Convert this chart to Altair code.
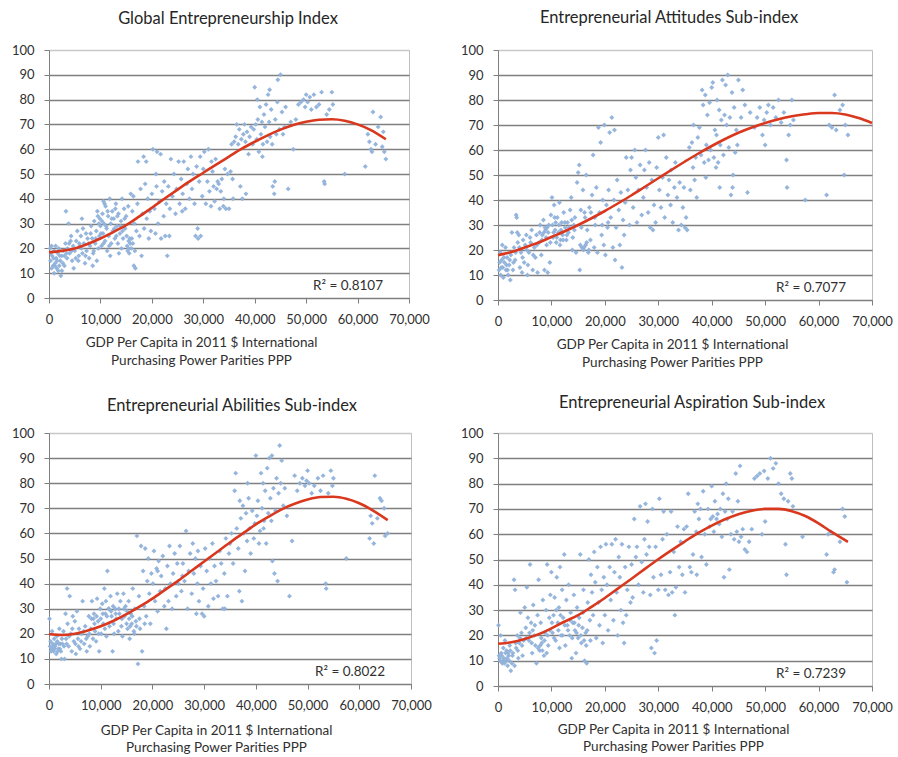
import altair as alt
import pandas as pd

FONT = "Lato"
TXT = "#303030"
GRID = "#7F7F7F"
PT_COLOR = "#8FB1DA"
LINE_COLOR = "#D9381E"

titles = [
    "Global Entrepreneurship Index",
    "Entrepreneurial Attitudes Sub-index",
    "Entrepreneurial Abilities Sub-index",
    "Entrepreneurial Aspiration Sub-index",
]
r2_labels = ["R\u00b2 = 0.8107", "R\u00b2 = 0.7077", "R\u00b2 = 0.8022", "R\u00b2 = 0.7239"]
x_title = ["GDP Per Capita in 2011 $ International", "Purchasing Power Parities PPP"]
x_ticks = [0, 10000, 20000, 30000, 40000, 50000, 60000, 70000]
y_ticks = [0, 10, 20, 30, 40, 50, 60, 70, 80, 90, 100]

# GDP per capita in thousands of 2011 $, index score
gei_points = [
    (0.2,20),(0.3,15),(0.5,12),(0.6,17),(0.8,13),(1.0,19),(1.0,10),(1.2,14),(1.4,16),(1.5,12),(1.7,18),(1.8,11),(2.0,13),(2.2,15),(2.3,9),(2.5,17),(2.5,11),(0.4,18),(1.3,21),
    (2.8,19),(3.0,13),(3.2,22),(3.3,35),(3.5,16),(3.6,20),(3.8,30),(4.0,18),(4.2,23),(4.5,15),(4.7,21),(4.8,12),(3.0,17),(4.3,25),
    (5.0,19),(5.3,23),(5.5,27),(5.7,15),(6.0,21),(6.2,25),(6.4,32),(6.5,18),(6.8,22),(7.0,14),(7.2,26),(7.3,19),(7.5,24),(5.8,17),(6.6,28),
    (7.8,16),(8.0,21),(8.2,29),(8.4,24),(8.6,18),(8.8,31),(9.0,22),(9.2,27),(9.3,15),(9.5,33),(9.6,20),(9.8,25),(10.0,29),(8.5,13),(9.4,35),
    (10.2,21),(10.4,34),(10.5,26),(10.7,30),(10.9,23),(11.0,37),(11.2,28),(11.3,19),(11.5,33),(11.6,25),(11.8,40),(12.0,30),(12.1,22),(12.3,35),(12.4,27),(10.8,38),(11.9,17),
    (12.6,32),(12.8,24),(13.0,38),(13.2,29),(13.4,22),(13.5,34),(13.8,26),(14.0,31),(14.2,40),(14.4,24),(14.6,36),(14.8,28),(15.0,33),(13.6,18),(14.1,20),
    (15.2,21),(15.3,19),(15.5,23),(15.6,18),(15.8,22),(16.0,20),(16.1,24),(16.2,35),(16.4,41),(16.5,13),(16.8,12),(17.0,27),(17.2,38),(15.4,37),(15.9,42),(16.6,30),(17.3,55),
    (17.6,25),(17.8,44),(18.0,17),(18.2,34),(18.4,57),(18.5,28),(18.7,46),(19.0,32),(19.2,40),(19.4,24),(19.6,35),(19.8,27),(18.9,55),(20.0,42),
    (20.2,60),(20.5,36),(20.7,26),(20.9,45),(21.0,59),(21.2,30),(21.5,39),(21.7,58),(21.8,24),(22.0,43),(22.3,33),(22.4,47),(20.8,50),
    (22.6,25),(22.8,38),(23.0,17),(23.2,45),(23.4,25),(23.5,36),(23.7,56),(24.0,41),(24.3,50),(24.6,34),(24.8,44),
    (25.2,55),(25.4,38),(25.7,48),(26.0,42),(26.2,55),(26.5,36),(26.8,46),(27.0,52),(27.3,40),(25.9,35),
    (27.6,57),(27.8,44),(28.0,50),(28.3,38),(28.5,25),(28.7,53),(29.0,24),(29.2,47),(29.4,57),(29.5,25),(29.8,41),(30.0,52),(28.9,28),
    (30.2,59),(30.5,38),(30.8,47),(31.0,60),(31.2,43),(31.5,37),(31.8,51),(32.0,45),(32.2,39),(32.4,56),(31.6,55),
    (32.6,44),(32.8,47),(33.0,46),(33.2,36),(33.4,43),(33.6,48),(33.9,37),(34.2,52),(34.4,36),(34.7,50),(35.0,36),(34.0,40),
    (35.3,51),(35.5,62),(35.8,40),(36.0,63),(36.3,65),(36.5,70),(36.8,62),(37.0,68),(37.2,45),(37.4,64),(35.7,48),
    (37.6,40),(37.8,66),(38.0,70),(38.2,63),(38.5,67),(38.8,58),(39.0,65),(39.3,69),(39.6,62),(39.8,68),(38.3,42),
    (40.0,85),(40.2,70),(40.4,64),(40.6,72),(40.8,59),(41.0,77),(41.2,66),(41.4,71),(41.6,62),(41.8,74),(42.0,69),(42.2,78),(42.4,63),(40.5,80),(41.5,57),
    (42.6,82),(42.8,71),(43.0,65),(43.2,76),(43.4,62),(43.5,45),(43.8,42),(44.0,72),(44.2,66),(44.4,79),(44.5,88),(44.8,68),(45.0,90),(43.9,47),(42.9,84),
    (45.3,75),(45.5,66),(45.8,69),(46.0,77),(46.5,44),(47.0,71),(47.5,60),(48.0,72),(48.5,78),(49.0,79),(49.5,80),(50.0,82),(49.8,77),
    (50.3,79),(50.7,81),(51.0,76),(51.5,82),(52.0,77),(52.5,78),(53.0,83),(53.5,47),(53.6,46),(54.0,74),(54.5,76),(55.0,83),(55.2,78),
    (57.5,50),(61.5,53),(62.0,66),(62.3,63),(62.6,60),(62.8,59),(63.0,75),(63.5,62),(64.0,69),(64.5,73),(64.8,61),(65.0,67),(65.2,59),(65.5,56),
    (0.5,21),(0.9,16),(1.1,13),(1.6,15),(1.9,20),(2.1,17),(2.7,14),(3.4,18),(3.9,22),(4.4,19),(5.2,16),(5.9,22),(6.3,20),(7.1,17),(7.7,22),(8.1,26),(8.7,19),(9.1,24),(9.7,30),(10.1,26),
    (10.3,31),(10.6,22),(11.1,29),(11.4,35),(11.7,21),(12.2,32),(12.7,28),(13.1,25),(13.3,33),(13.9,29),(14.3,27),(14.7,32),(15.1,25),(15.5,20),(15.7,24),(16.3,22),(16.7,19),(12.9,36),(10.6,39),(9.9,32),
]

att_points = [
    (0.2,12),(0.4,19),(0.5,10),(0.7,16),(0.9,13),(1.0,9),(1.2,15),(1.4,21),(1.5,12),(1.7,17),(1.9,10),(2.1,14),(2.3,8),(2.4,18),(0.8,22),(1.6,14),
    (2.6,27),(2.8,12),(3.0,21),(3.2,16),(3.4,34),(3.5,33),(3.7,23),(3.9,26),(4.1,13),(4.3,19),(4.5,11),(4.7,24),(4.9,15),
    (5.1,22),(5.3,26),(5.6,14),(5.8,19),(6.0,25),(6.3,28),(6.5,12),(6.8,21),(7.0,17),(7.2,26),(7.4,11),(5.5,10),
    (7.7,23),(7.9,30),(8.1,18),(8.3,26),(8.5,32),(8.7,12),(8.9,28),(9.1,22),(9.3,11),(9.5,30),(9.7,15),(9.9,34),(8.6,27),(9.2,29),
    (10.1,41),(10.3,25),(10.5,38),(10.7,28),(10.9,23),(11.1,33),(11.3,27),(11.5,39),(11.7,24),(11.9,31),(12.1,26),(12.3,35),(10.8,31),(11.6,22),
    (12.6,29),(12.8,24),(13.0,31),(13.2,27),(13.5,36),(13.7,41),(14.0,25),(14.2,30),(14.4,33),(14.6,19),(14.8,47),(15.0,51),(13.9,20),
    (15.2,54),(15.3,12),(15.5,36),(15.7,21),(15.9,44),(16.0,20),(16.2,35),(16.4,22),(16.5,50),(16.7,28),(16.9,19),(17.1,37),(17.3,24),(15.6,29),(16.3,33),
    (17.6,42),(17.8,58),(18.0,21),(18.2,30),(18.4,45),(18.6,19),(18.8,69),(19.0,35),(19.2,63),(19.4,26),(19.6,40),(19.8,22),(19.9,70),
    (20.1,18),(20.3,38),(20.5,29),(20.7,44),(20.9,67),(21.1,33),(21.3,73),(21.5,21),(21.7,40),(21.9,16),(22.1,29),(22.3,48),(21.8,68),
    (22.6,36),(22.8,22),(23.0,43),(23.2,13),(23.4,32),(23.6,26),(23.8,39),(24.0,57),(24.3,44),(24.6,30),(24.8,52),
    (25.0,57),(25.3,37),(25.6,60),(25.8,49),(26.0,31),(26.3,44),(26.6,54),(26.9,34),(27.2,41),(27.4,52),
    (27.6,60),(27.8,45),(28.1,35),(28.3,55),(28.5,29),(28.8,48),(29.0,28),(29.2,38),(29.5,31),(29.7,53),(30.0,65),
    (30.2,44),(30.5,37),(30.8,49),(31.0,66),(31.2,33),(31.5,57),(31.8,42),(32.0,48),(32.3,38),(32.4,52),
    (32.7,31),(33.0,45),(33.2,55),(33.5,41),(33.8,28),(34.0,47),(34.3,30),(34.6,37),(34.8,45),(35.0,29),(35.2,33),(35.4,28),
    (35.8,61),(36.0,44),(36.3,63),(36.6,70),(36.8,48),(37.0,57),(37.2,41),(37.4,65),(36.5,53),
    (37.7,69),(38.0,58),(38.2,84),(38.4,78),(38.6,55),(38.8,82),(39.0,62),(39.2,74),(39.4,56),(39.6,79),(39.8,60),(40.0,85),(38.9,49),
    (40.2,87),(40.4,57),(40.6,68),(40.8,53),(41.0,80),(41.2,55),(41.4,76),(41.6,62),(41.8,72),(42.0,88),(42.2,58),(42.4,74),(40.9,66),(41.5,45),
    (42.6,86),(42.8,70),(43.0,90),(43.2,61),(43.4,73),(43.6,42),(43.8,83),(44.0,50),(44.2,77),(44.4,59),(44.6,68),(44.8,62),(45.0,88),(43.9,45),
    (45.5,73),(45.8,84),(46.2,78),(46.7,43),(47.2,75),(48.0,69),(48.5,73),(49.0,77),(49.5,66),(49.8,72),(50.0,62),(50.3,75),
    (50.6,78),(51.0,70),(51.5,77),(52.0,73),(52.5,80),(53.0,71),(53.5,75),(54.0,56),(54.1,45),(54.4,66),(54.7,70),(55.0,80),(55.3,72),
    (57.5,40),(61.5,42),(62.0,70),(62.5,69),(63.0,82),(63.3,68),(64.0,76),(64.5,78),(64.8,50),(65.0,70),(65.5,66),
    (0.3,15),(0.6,13),(1.1,17),(1.8,12),(2.2,16),(2.9,15),(3.3,19),(3.6,27),(4.0,21),(4.6,17),(5.4,20),(6.1,23),(6.6,18),(7.3,22),(7.8,27),(8.2,24),(8.8,29),(9.0,25),(9.4,27),(9.8,23),
    (10.2,30),(10.4,27),(10.6,33),(11.0,25),(11.4,30),(11.8,28),(12.2,24),(12.5,31),(12.9,26),(13.3,29),(13.8,32),(14.3,28),(15.4,22),(16.1,21),(16.6,23),(17.0,20),(17.4,35),(18.1,33),(19.5,30),(20.6,31),
]

abi_points = [
    (0.1,26),(0.3,17),(0.5,14),(0.7,16),(0.9,13),(1.0,18),(1.2,15),(1.4,12),(1.6,17),(1.8,14),(2.0,22),(2.2,16),(2.4,10),(0.6,21),(1.5,19),(2.3,13),
    (2.6,16),(2.8,21),(3.0,10),(3.2,28),(3.3,18),(3.5,38),(3.6,24),(3.8,15),(4.0,35),(4.2,20),(4.4,13),(4.6,27),(4.8,17),
    (5.0,25),(5.2,12),(5.4,29),(5.6,18),(5.8,22),(6.0,14),(6.3,20),(6.5,33),(6.8,16),(7.0,23),(7.3,13),(7.5,19),
    (7.7,27),(7.9,15),(8.1,22),(8.3,33),(8.5,18),(8.7,28),(8.9,21),(9.1,17),(9.3,34),(9.5,25),(9.7,13),(9.9,30),(8.6,26),
    (10.1,20),(10.3,32),(10.5,24),(10.7,38),(10.9,28),(11.1,19),(11.3,45),(11.5,30),(11.7,23),(11.9,35),(12.1,27),(12.3,13),(12.4,31),(11.0,33),
    (12.6,20),(12.8,30),(13.0,26),(13.2,36),(13.4,21),(13.6,28),(13.8,33),(14.0,23),(14.2,19),(14.4,36),(14.6,27),(14.8,31),(15.0,24),
    (15.2,22),(15.4,33),(15.6,18),(15.8,28),(16.0,24),(16.2,38),(16.4,21),(16.6,30),(16.8,25),(17.0,59),(17.2,8),(17.4,35),(15.5,26),(16.5,20),
    (17.6,22),(17.8,55),(18.0,13),(18.2,45),(18.4,31),(18.6,54),(18.8,27),(19.0,41),(19.2,50),(19.4,36),(19.6,24),(19.8,44),
    (20.1,40),(20.3,53),(20.5,33),(20.8,46),(21.0,29),(21.2,49),(21.5,37),(21.7,43),(22.0,51),(22.3,31),(22.5,38),(21.0,45),
    (22.7,22),(22.9,47),(23.1,33),(23.3,55),(23.5,40),(23.8,30),(24.0,44),(24.3,52),(24.6,35),(24.8,48),
    (25.0,40),(25.3,55),(25.6,37),(25.9,48),(26.2,41),(26.5,61),(26.8,30),(27.0,45),(27.3,52),(25.8,43),
    (27.6,36),(27.8,56),(28.0,44),(28.3,50),(28.5,28),(28.8,53),(29.0,33),(29.3,47),(29.6,28),(29.8,38),(30.0,27),(28.7,40),
    (30.2,54),(30.5,45),(30.8,31),(31.0,50),(31.3,40),(31.6,56),(31.8,34),(32.0,47),(32.3,41),
    (32.7,35),(33.0,53),(33.3,48),(33.6,30),(33.9,44),(34.2,58),(34.5,35),(34.8,52),(35.0,56),(34.0,30),
    (35.3,60),(35.6,48),(35.9,77),(36.1,84),(36.3,62),(36.6,54),(36.9,73),(37.1,66),(37.3,33),(37.5,71),(36.8,37),
    (37.7,60),(37.9,45),(38.1,68),(38.3,57),(38.6,74),(38.8,62),(39.0,52),(39.3,69),(39.6,58),(39.8,64),(40.0,91),(38.4,80),
    (40.2,67),(40.4,73),(40.6,56),(40.8,61),(41.0,84),(41.2,70),(41.4,80),(41.6,65),(41.8,77),(42.0,56),(42.2,86),(42.4,68),(41.5,62),
    (42.6,90),(42.8,74),(43.0,65),(43.2,49),(43.4,78),(43.6,44),(43.8,69),(44.0,82),(44.2,41),(44.4,76),(44.6,95),(44.8,80),(45.0,89),(43.1,91),
    (45.3,71),(45.6,78),(46.0,67),(46.5,35),(47.0,57),(47.5,83),(48.0,77),(48.5,80),(49.0,82),(49.5,79),(50.0,85),(49.8,81),
    (50.3,80),(50.8,76),(51.3,79),(52.0,82),(52.5,77),(53.0,83),(53.5,40),(53.6,38),(54.0,76),(54.5,85),(54.8,79),(55.0,82),
    (57.5,50),(62.0,58),(62.2,67),(62.5,64),(62.8,56),(63.0,83),(63.5,66),(64.0,74),(64.3,73),(64.8,70),(65.0,59),(65.5,60),
    (0.2,15),(0.4,13),(0.8,15),(1.1,14),(1.3,16),(1.7,13),(1.9,16),(2.1,14),(2.5,18),(2.9,15),(3.4,16),(3.9,19),(4.5,22),(5.1,16),(5.7,15),(6.2,17),(6.7,21),(7.2,18),(7.8,20),(8.2,26),
    (8.8,24),(9.2,27),(9.6,20),(10.0,26),(10.4,28),(10.8,22),(11.2,27),(11.6,30),(12.0,29),(12.5,24),(12.9,28),(13.5,30),(14.1,26),(14.5,30),(15.1,29),(15.7,23),(16.1,27),(16.9,23),(17.5,26),(18.5,24),
]

asp_points = [
    (0.1,24),(0.3,11),(0.5,20),(0.6,13),(0.8,9),(1.0,15),(1.1,11),(1.3,18),(1.5,10),(1.6,14),(1.8,8),(2.0,12),(2.2,16),(2.4,6),(0.9,10),(1.9,13),
    (2.6,9),(2.8,13),(3.0,42),(3.2,38),(3.4,15),(3.6,20),(3.8,11),(4.0,17),(4.2,29),(4.4,21),(4.6,12),(4.8,18),(3.1,8),
    (5.0,31),(5.2,23),(5.4,39),(5.6,27),(5.8,18),(6.0,48),(6.2,25),(6.4,13),(6.6,32),(6.8,20),(7.0,16),(7.2,9),(7.4,28),(6.5,22),
    (7.6,42),(7.8,14),(8.0,25),(8.2,17),(8.4,34),(8.6,12),(8.8,21),(9.0,30),(9.2,48),(9.4,16),(9.6,27),(9.8,36),(8.1,19),(9.1,13),
    (10.0,45),(10.2,21),(10.4,28),(10.6,35),(10.8,18),(11.0,43),(11.2,25),(11.4,31),(11.6,47),(11.8,20),(12.0,38),(12.2,27),(12.4,52),(11.5,15),
    (12.6,16),(12.8,34),(13.0,24),(13.2,40),(13.4,20),(13.6,29),(13.8,11),(14.0,25),(14.2,36),(14.4,22),(14.6,13),(14.8,31),(15.0,19),
    (15.2,27),(15.4,52),(15.6,17),(15.8,23),(16.0,38),(16.2,10),(16.4,21),(16.6,9),(16.8,33),(17.0,50),(17.2,26),(17.4,44),(15.9,29),(16.5,16),
    (17.6,37),(17.8,28),(18.0,53),(18.2,41),(18.4,19),(18.6,47),(18.8,33),(19.0,24),(19.2,55),(19.4,38),(19.6,17),(19.8,43),
    (20.0,28),(20.2,56),(20.4,40),(20.6,22),(20.9,47),(21.1,34),(21.3,56),(21.6,26),(21.8,45),(22.0,58),(22.2,37),(22.4,20),
    (22.6,51),(22.8,43),(23.0,30),(23.2,56),(23.4,25),(23.6,17),(23.8,47),(24.0,28),(24.2,38),(24.5,55),(24.8,33),
    (25.0,48),(25.2,35),(25.5,66),(25.8,51),(26.0,55),(26.3,40),(26.6,71),(26.9,49),(27.2,37),(27.4,58),
    (27.6,72),(27.8,52),(28.0,65),(28.3,55),(28.5,36),(28.7,15),(28.9,70),(29.1,43),(29.3,13),(29.5,55),(29.7,18),(30.0,38),
    (30.2,74),(30.5,44),(30.8,58),(31.0,69),(31.3,38),(31.6,60),(31.9,36),(32.2,45),(32.4,69),
    (32.6,37),(32.9,53),(33.1,28),(33.3,39),(33.6,63),(33.9,47),(34.2,57),(34.5,44),(34.8,62),(35.0,37),
    (35.3,63),(35.6,76),(35.9,47),(36.2,45),(36.5,52),(36.8,69),(37.1,61),(37.4,72),(37.2,44),
    (37.6,66),(37.9,70),(38.1,51),(38.4,77),(38.7,60),(39.0,48),(39.3,70),(39.6,63),(39.8,66),(40.0,79),
    (40.2,67),(40.4,61),(40.6,73),(40.9,66),(41.1,68),(41.4,64),(41.6,70),(41.9,59),(42.1,76),(42.3,43),(42.5,69),
    (42.7,80),(42.9,66),(43.1,74),(43.3,46),(43.6,60),(43.9,69),(44.2,58),(44.5,84),(44.7,61),(44.9,73),(45.1,57),(45.3,87),
    (45.5,59),(45.8,62),(46.2,54),(46.6,53),(47.0,57),(47.5,62),(48.0,82),(48.5,83),(49.0,84),(49.4,60),(49.8,85),(50.0,65),
    (50.5,82),(51.0,90),(51.5,86),(52.0,88),(52.5,80),(53.0,76),(53.5,74),(53.8,56),(54.0,44),(54.3,73),(54.7,84),(55.0,82),(55.2,71),
    (57.0,59),(61.5,52),(61.8,60),(62.3,61),(62.8,45),(63.0,46),(64.0,57),(64.5,70),(64.9,67),(65.3,41),
    (0.2,12),(0.4,10),(0.7,12),(1.2,9),(1.4,13),(1.7,11),(2.1,10),(2.3,14),(2.7,12),(3.3,17),(3.7,14),(4.1,19),(4.5,16),(5.3,19),(5.9,21),(6.3,17),(6.9,24),(7.5,15),(7.9,16),(8.3,14),
    (8.7,18),(9.3,20),(9.7,22),(10.1,25),(10.5,19),(10.9,30),(11.3,22),(11.7,28),(12.1,20),(12.5,24),(13.1,22),(13.5,26),(13.9,19),(14.3,25),(14.7,21),(15.1,24),(15.5,20),(16.1,18),(16.7,22),(17.3,18),
]

# Trend lines (x in thousands)
curve_x_short = [0, 2.5, 5, 7.5, 10, 12.5, 15, 17.5, 20, 22.5, 25, 27.5, 30, 32.5, 35,
                 37.5, 40, 42.5, 45, 47.5, 50, 52.5, 55, 57.5, 60, 62.5, 65.5]
curve_x_long = [0, 2.5, 5, 7.5, 10, 12.5, 15, 17.5, 20, 22.5, 25, 27.5, 30, 32.5, 35,
                37.5, 40, 42.5, 45, 47.5, 50, 52.5, 55, 57.5, 60, 62.5, 65, 67.5, 70]
gei_curve = [18.4, 19, 20, 21.8, 24, 26.6, 29.4, 32.8, 36.4, 40.1, 43.7, 47.2, 50.5, 53.8, 57,
             60.2, 63, 65.6, 67.9, 69.8, 71.1, 71.9, 72.1, 71.5, 70, 67.8, 64]
att_curve = [17.9, 19.2, 21, 22.9, 25.2, 27.5, 30, 32.7, 35.6, 38.7, 41.9, 45.3, 48.7, 52.1, 55.4,
             58.6, 61.6, 64.4, 66.9, 69, 70.8, 72.3, 73.5, 74.3, 74.8, 74.8, 74.2, 72.8, 70.8]
abi_curve = [19.9, 19.5, 20, 21.3, 23, 25.2, 27.8, 30.8, 34, 37.6, 41.2, 45, 48.8, 52.6, 56.4,
             60, 63.6, 66.7, 69.6, 71.8, 73.5, 74.5, 74.6, 73.8, 72, 69.3, 65.3]
asp_curve = [16.7, 17.3, 18.6, 20.4, 22.8, 25.5, 28, 31.3, 34.8, 38.6, 42.4, 46.3, 50.1, 53.7, 57.2,
             60.5, 63.4, 65.9, 67.9, 69.3, 70, 70, 69.1, 67.2, 64.3, 60.8, 57]


def panel(title, points, cx, cy, r2, w, h, title_dx, title_off, xt_x, xt_y, xt_lh):
    df = pd.DataFrame(points, columns=["gdp_k", "score"])
    df["gdp"] = df["gdp_k"] * 1000
    cdf = pd.DataFrame({"gdp": [v * 1000 for v in cx], "score": cy})

    xscale = alt.Scale(domain=[0, 70000], nice=False, zero=False)
    yscale = alt.Scale(domain=[0, 100], nice=False)
    xaxis = alt.Axis(
        values=x_ticks, format=",d", labelFlush=False, labelFont=FONT, labelFontSize=13,
        labelColor=TXT, tickSize=5, tickColor=GRID, domainColor=GRID, domainWidth=1,
        labelPadding=10, grid=False, title=x_title, titleFont=FONT, titleFontSize=13.5,
        titleFontWeight="normal", titleColor=TXT, titleX=xt_x, titleY=xt_y,
        titleAlign="center", titleBaseline="top", titleLineHeight=xt_lh,
    )
    yaxis = alt.Axis(
        values=y_ticks, labelFont=FONT, labelFontSize=13, labelColor=TXT, tickSize=5,
        tickColor=GRID, domainColor=GRID, domainWidth=1, labelPadding=10, grid=True,
        labelOverlap=False,
        gridColor=alt.condition("datum.value === 100", alt.value("#C8C8C8"), alt.value(GRID)),
        gridWidth=1.6, title=None,
    )
    xenc = alt.X("gdp:Q", scale=xscale, axis=xaxis)
    yenc = alt.Y("score:Q", scale=yscale, axis=yaxis)
    pts = alt.Chart(df).mark_point(
        shape="diamond", filled=True, size=24, color=PT_COLOR, opacity=0.95
    ).encode(x=xenc, y=yenc)
    line = alt.Chart(cdf).mark_line(
        color=LINE_COLOR, strokeWidth=2.6, interpolate="monotone"
    ).encode(x=xenc, y=yenc)
    txt = alt.Chart(pd.DataFrame({"t": [r2]})).mark_text(
        align="right", baseline="middle", font=FONT, fontSize=13.5, color=TXT
    ).encode(text="t:N", x=alt.value(w - 26), y=alt.value(h - 12))
    return alt.layer(pts, line, txt).properties(
        width=w, height=h,
        title=alt.TitleParams(
            title, font=FONT, fontSize=16.5, fontWeight="normal", color="#262626",
            anchor="middle", baseline="bottom", offset=title_off, dx=title_dx,
        ),
    )


p1 = panel(titles[0], gei_points, curve_x_short, gei_curve, r2_labels[0], 360, 248, -1, 1, 152, 37, 18)
p2 = panel(titles[1], att_points, curve_x_long, att_curve, r2_labels[1], 374, 250, -16, 2, 174, 37, 18)
p3 = panel(titles[2], abi_points, curve_x_short, abi_curve, r2_labels[2], 362, 251, 2, -3, 167, 39, 17)
p4 = panel(titles[3], asp_points, curve_x_short, asp_curve, r2_labels[3], 374, 253, 7, 0, 175, 36, 17)

chart = alt.concat(
    p1, p2, p3, p4, columns=2, spacing={"row": 133, "column": 87}, bounds="flush"
).properties(
    padding={"left": 10, "top": 9, "right": 5, "bottom": 2},
    background="white",
).configure_view(
    stroke="#BFBFBF", strokeWidth=1,
)

chart.save("out.html", embed_options={"renderer": "svg", "actions": False})
